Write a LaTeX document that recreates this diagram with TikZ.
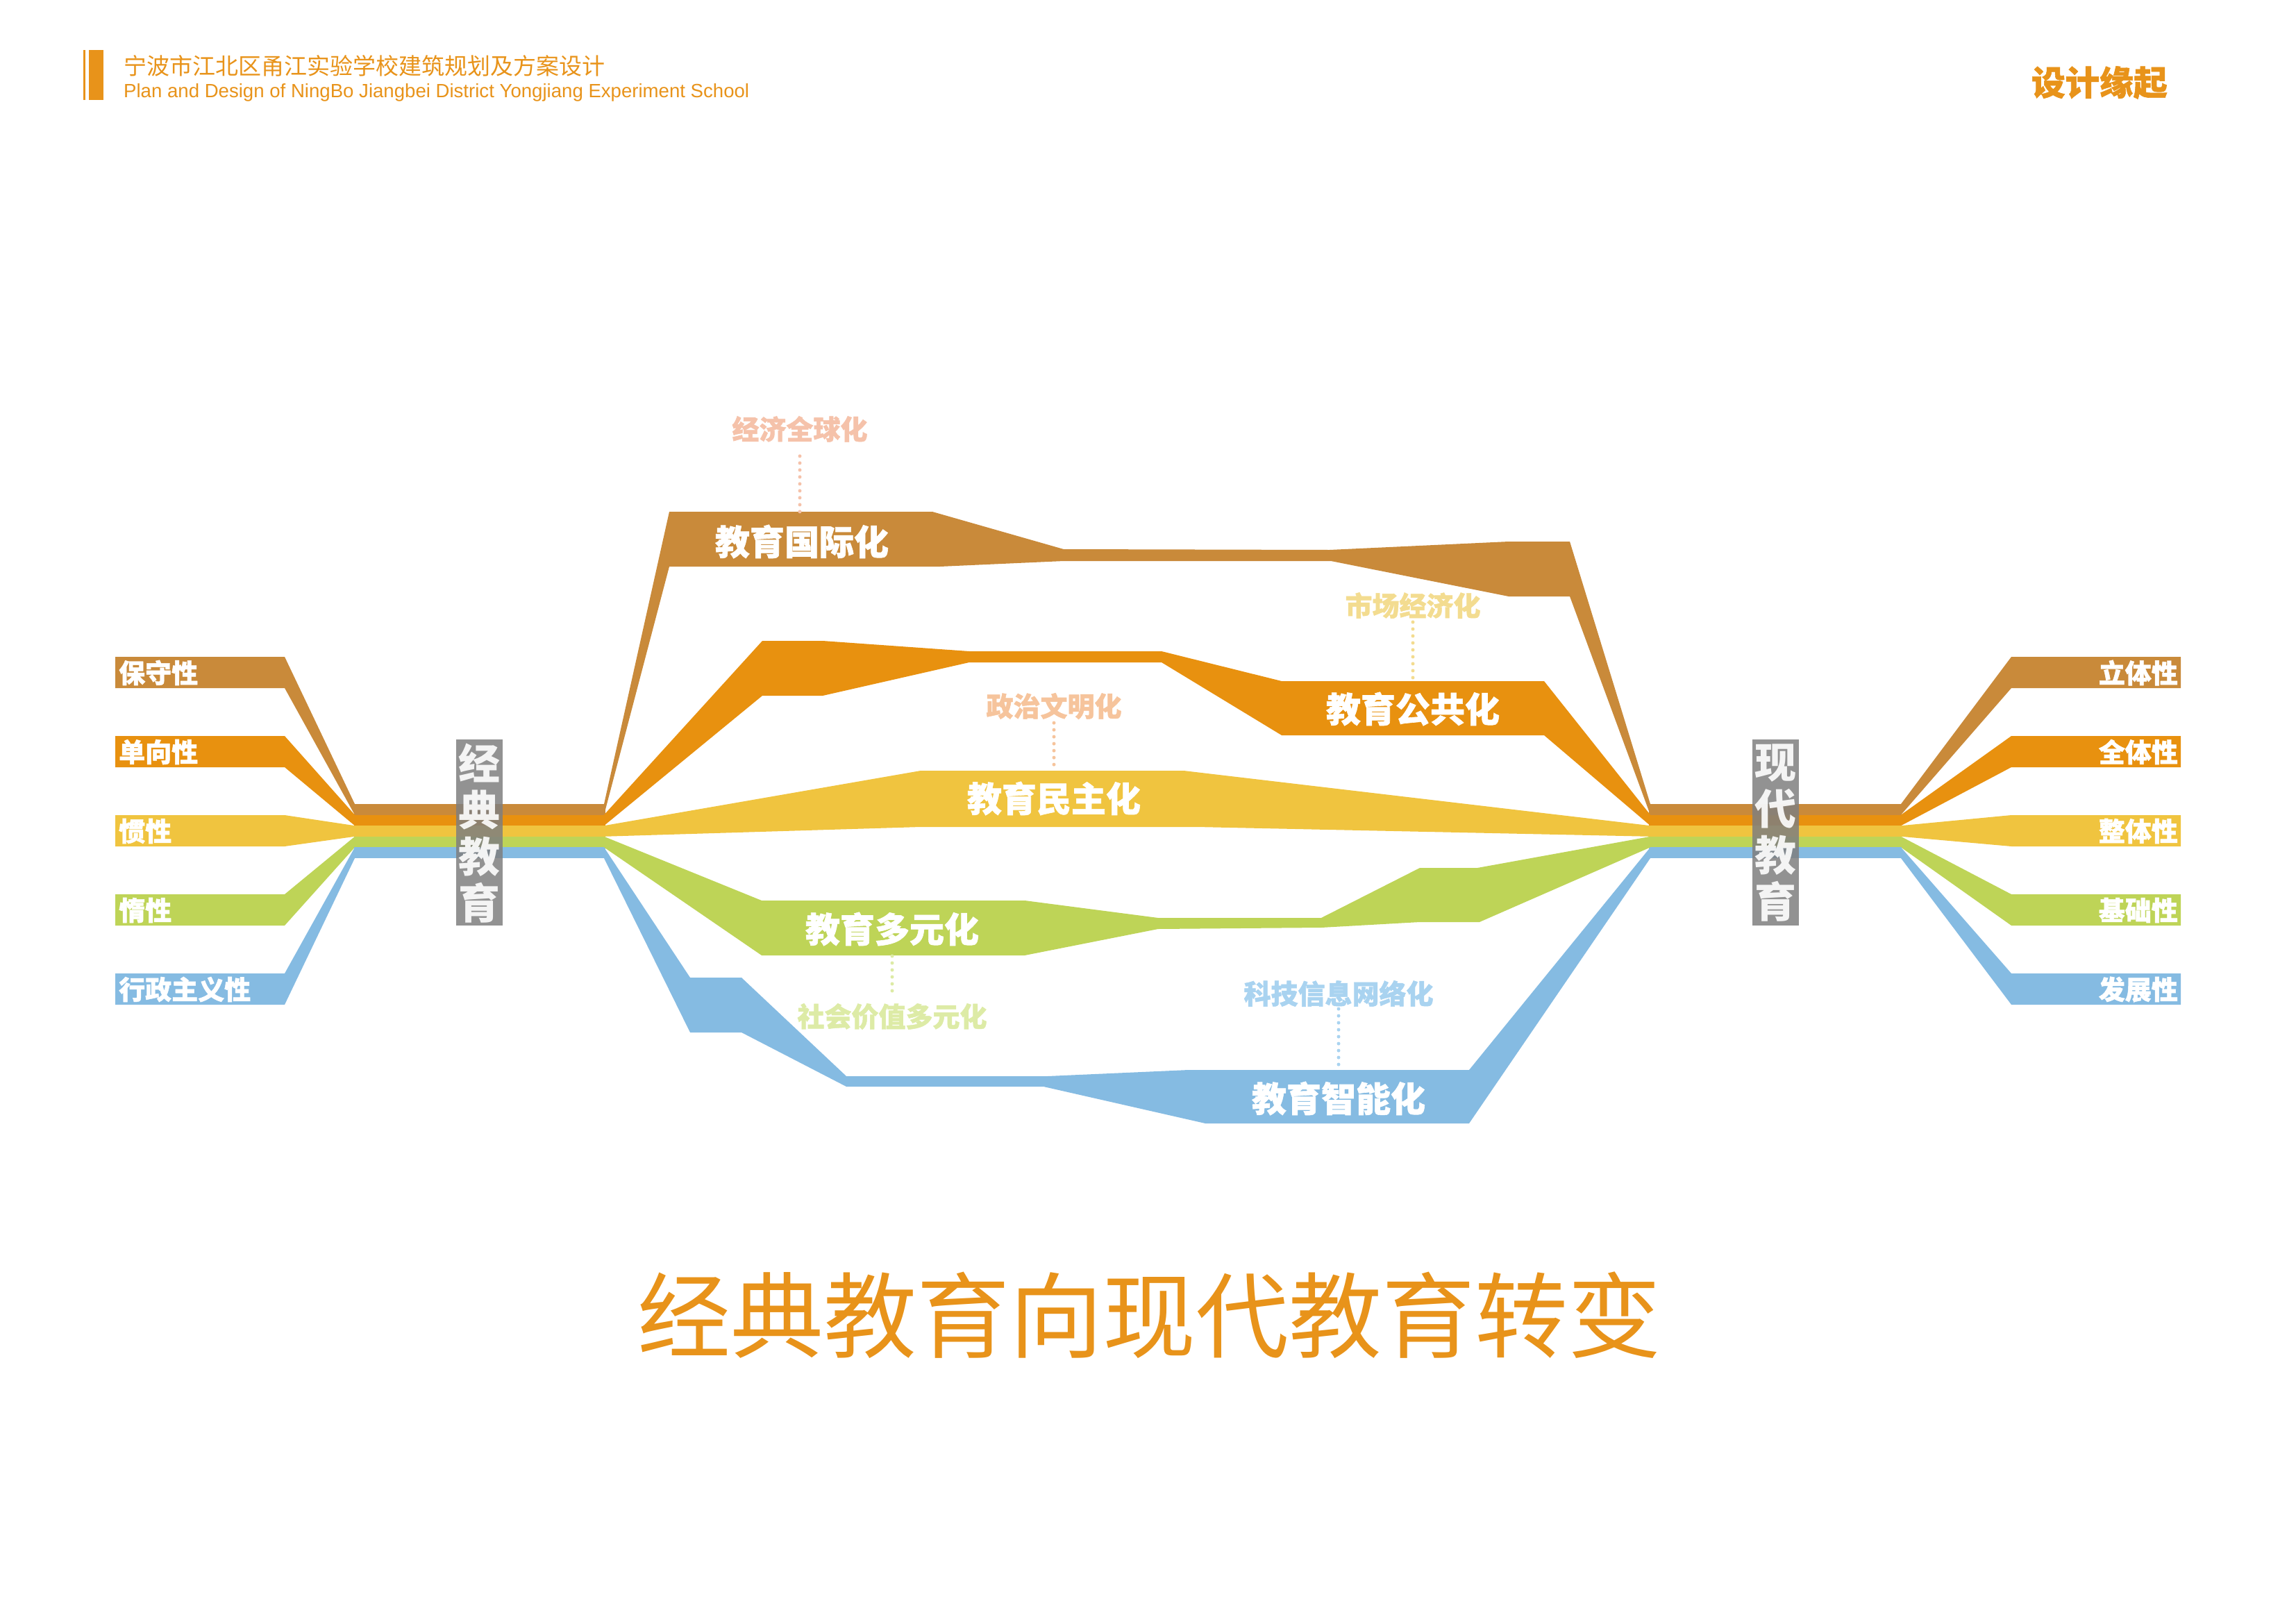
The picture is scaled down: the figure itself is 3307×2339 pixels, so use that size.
\documentclass[tikz,border=0pt]{standalone}
\usepackage{fontspec}
\setmainfont{Liberation Sans}
\newfontfamily\cjk{Noto Sans CJK SC}
\newfontfamily\cjkheavy{Noto Sans CJK SC}[BoldFeatures={FakeBold=1.2}]
\newcommand\heavyfont{\cjkheavy\bfseries}
\newcommand\medfont{\cjk\bfseries}
\definecolor{cBrown}{HTML}{C98A3A}
\definecolor{cOrange}{HTML}{E8910F}
\definecolor{cYellow}{HTML}{F0C43F}
\definecolor{cGreen}{HTML}{BED457}
\definecolor{cBlue}{HTML}{85BBE2}
\definecolor{cGrey}{HTML}{7F7F7F}
\definecolor{cHead}{HTML}{E8931A}
\definecolor{pPink}{HTML}{F5C2AA}
\definecolor{pPeach}{HTML}{F6C49C}
\definecolor{pYellow}{HTML}{F3DC90}
\definecolor{pGreen}{HTML}{DDEBA6}
\definecolor{pBlue}{HTML}{A9D3F0}
\tikzset{
  sidelbl/.style={font=\heavyfont\fontsize{38}{40}\selectfont, text=white, inner sep=0},
  blklbl/.style={font=\heavyfont\fontsize{50}{52}\selectfont, text=white, inner sep=0},
  palelbl/.style={font=\heavyfont\fontsize{39}{41}\selectfont, inner sep=0},
  dotline/.style={line width=5pt, dash pattern=on 0pt off 10pt, line cap=round},
  greybox/.style={fill=cGrey, fill opacity=0.85, draw=none, minimum width=67pt, minimum height=268pt, inner sep=0},
  vtext/.style={font=\medfont\fontsize{60}{67}\selectfont, text=white, text opacity=0.9, align=center, inner sep=0},
}
\begin{document}
\begin{tikzpicture}[x=1pt,y=-1pt]
\useasboundingbox (0,0) rectangle (3307,2339);

% ---------- header ----------
\fill[cHead] (120,72) rectangle (123,144);
\fill[cHead] (128,72) rectangle (149,144);
\node[anchor=west, inner sep=0, text=cHead, font=\cjk\fontsize{33}{36}\selectfont] (hcn) at (178,95) {宁波市江北区甬江实验学校建筑规划及方案设计};
\node[anchor=west, inner sep=0, text=cHead, font=\fontsize{27.6}{30}\selectfont] (hen) at (178,133) {Plan and Design of NingBo Jiangbei District Yongjiang Experiment School};
\node[anchor=east, inner sep=0, text=cHead, font=\heavyfont\fontsize{49}{52}\selectfont] (sect) at (3122,119) {设计缘起};

% ---------- left inputs and bundle ----------
\foreach \i/\c/\t in {0/cBrown/保守性, 1/cOrange/单向性, 2/cYellow/惯性, 3/cGreen/惰性, 4/cBlue/行政主义性}{
  \pgfmathsetmacro{\bt}{946+114*\i}
  \pgfmathsetmacro{\bb}{\bt+45}
  \pgfmathsetmacro{\st}{1158+15.6*\i}
  \pgfmathsetmacro{\sb}{\st+15.6}
  \fill[\c] (166,\bt) -- (410,\bt) -- (511,\st) -- (511,\sb) -- (410,\bb) -- (166,\bb) -- cycle;
  \fill[\c] (510,\st) rectangle (872,\sb);
  \node[sidelbl, anchor=west] (L\i) at (171,\bt+23) {\t};
}

% ---------- right outputs and bundle ----------
\foreach \i/\c/\t in {0/cBrown/立体性, 1/cOrange/全体性, 2/cYellow/整体性, 3/cGreen/基础性, 4/cBlue/发展性}{
  \pgfmathsetmacro{\bt}{946+114*\i}
  \pgfmathsetmacro{\bb}{\bt+45}
  \pgfmathsetmacro{\st}{1158+15.6*\i}
  \pgfmathsetmacro{\sb}{\st+15.6}
  \fill[\c] (3141,\bt) -- (2897,\bt) -- (2738,\st) -- (2738,\sb) -- (2897,\bb) -- (3141,\bb) -- cycle;
  \fill[\c] (2375,\st) rectangle (2739,\sb);
  \node[sidelbl, anchor=east] (R\i) at (3137,\bt+23) {\t};
}

% ---------- middle flows ----------
% brown : 教育国际化
\fill[cBrown] (870,1158) -- (964,737) -- (1343,737) -- (1532,791) -- (1915,792) -- (2173,780) -- (2261,780) -- (2377,1158)
  -- (2377,1173.6) -- (2261,859) -- (2173,859) -- (1917,808) -- (1532,808) -- (1354,816) -- (964,816) -- (870,1173.6) -- cycle;
% orange : 教育公共化
\fill[cOrange] (870,1173.6) -- (1098,923) -- (1185,923) -- (1396,938) -- (1673,938) -- (1846,981) -- (2224,981) -- (2377,1173.6)
  -- (2377,1189.2) -- (2224,1059) -- (1846,1059) -- (1673,954) -- (1396,954) -- (1185,1002) -- (1098,1002) -- (870,1189.2) -- cycle;
% yellow : 教育民主化
\fill[cYellow] (870,1189.2) -- (1326,1110) -- (1705,1110) -- (2377,1189.2)
  -- (2377,1204.8) -- (1724,1191) -- (1326,1191) -- (870,1204.8) -- cycle;
% green : 教育多元化
\fill[cGreen] (870,1204.8) -- (1097,1297) -- (1476,1297) -- (1668,1322) -- (1903,1322) -- (2045,1250) -- (2128,1250) -- (2377,1204.8)
  -- (2377,1220.4) -- (2131,1328) -- (2045,1328) -- (1903,1336) -- (1668,1338) -- (1476,1376) -- (1097,1376) -- (870,1220.4) -- cycle;
% blue : 教育智能化
\fill[cBlue] (870,1220.4) -- (994,1408) -- (1068,1408) -- (1219,1550) -- (1509,1550) -- (1712,1541) -- (2116,1541) -- (2377,1220.4)
  -- (2377,1236) -- (2116,1618) -- (1736,1618) -- (1503,1565) -- (1219,1565) -- (1068,1487) -- (994,1487) -- (870,1236) -- cycle;

% ---------- grey boxes ----------
\node[greybox] (lbox) at (690.5,1199) {};
\node[vtext] (ltxt) at (690.5,1200) {经\\典\\教\\育};
\node[greybox] (rbox) at (2557.5,1199) {};
\node[vtext] (rtxt) at (2557.5,1200) {现\\代\\教\\育};

% ---------- flow labels ----------
\node[blklbl] (gjh) at (1155,780) {教育国际化};
\node[blklbl] (ggh) at (2035,1021) {教育公共化};
\node[blklbl] (mzh) at (1518,1150) {教育民主化};
\node[blklbl] (dyh) at (1285,1338) {教育多元化};
\node[blklbl] (znh) at (1928,1582) {教育智能化};

\coordinate (gjhTop) at (1153,737);
\coordinate (gghTop) at (2035,981);
\coordinate (mzhTop) at (1518,1110);
\coordinate (dyhBot) at (1285,1377);
\coordinate (znhTop) at (1928,1541);

\node[palelbl, text=pPink] (jjqqh) at (1152,618) {经济全球化};
\node[palelbl, text=pYellow] (scjjh) at (2035,872) {市场经济化};
\node[palelbl, text=pPeach] (zzwmh) at (1518,1017) {政治文明化};
\node[palelbl, text=pGreen] (shjzh) at (1285,1464) {社会价值多元化};
\node[palelbl, text=pBlue] (kjxxh) at (1928,1431) {科技信息网络化};

\draw[dotline, draw=pPink, shorten <=20pt] (jjqqh.south) -- (jjqqh.south |- gjhTop);
\draw[dotline, draw=pYellow, shorten <=5pt] (scjjh.south) -- (scjjh.south |- gghTop);
\draw[dotline, draw=pPeach, shorten <=5pt] (zzwmh.south) -- (zzwmh.south |- mzhTop);
\draw[dotline, draw=pGreen, shorten >=14pt] (dyhBot) -- (dyhBot |- shjzh.north);
\draw[dotline, draw=pBlue, shorten <=3pt] (kjxxh.south) -- (kjxxh.south |- znhTop);

% ---------- title ----------
\node[inner sep=0, text=cHead, font=\cjk\fontsize{134}{140}\selectfont] (title) at (1655,1894) {经典教育向现代教育转变};
\end{tikzpicture}
\end{document}
